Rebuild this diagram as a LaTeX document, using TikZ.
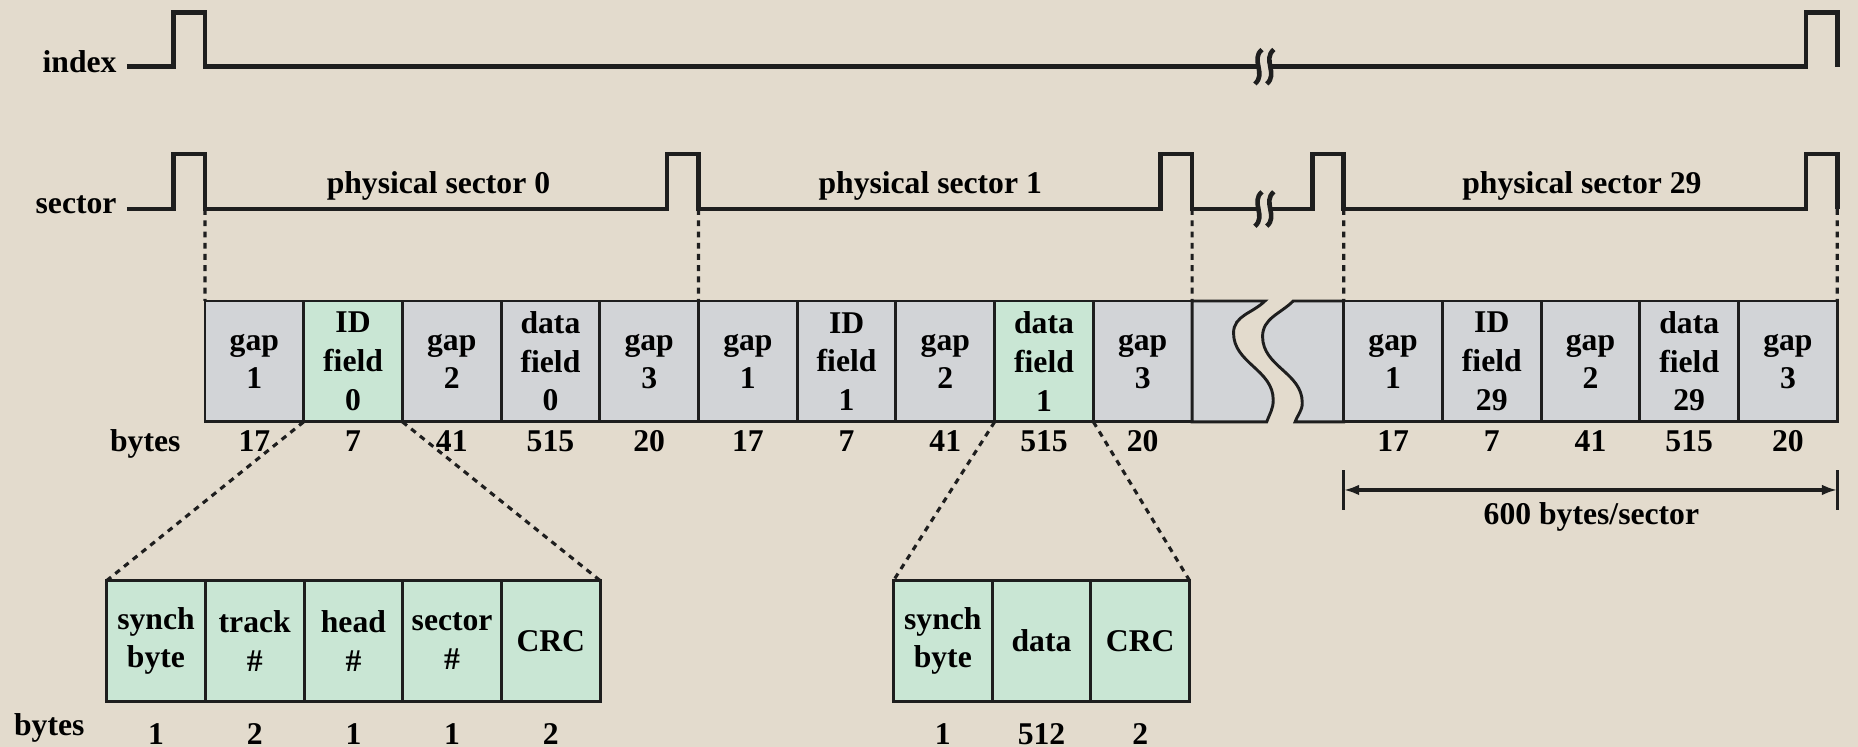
\documentclass[tikz,border=0pt]{standalone}
\usepackage{fontspec}
\setmainfont{Liberation Serif}
\usetikzlibrary{arrows.meta,positioning}
\definecolor{Paper}{HTML}{E3DBCD}
\definecolor{Ink}{HTML}{1E1E1E}
\definecolor{CellGray}{HTML}{D2D4D7}
\definecolor{CellGreen}{HTML}{C9E6D4}

\begin{document}
\begin{tikzpicture}[
  font=\fontsize{7.6}{9.3}\selectfont\bfseries,
  cell/.style={draw=Ink,line width=0.7pt,fill=CellGray,minimum width=0.833cm,minimum height=1.02cm,inner sep=0pt,outer sep=0pt,align=center},
  field/.style={cell,fill=CellGreen},
  piece/.style={draw=Ink,line width=0.7pt,fill=CellGray},
  bytenum/.style={anchor=base,inner sep=0pt},
  lbl/.style={anchor=base east,inner sep=0pt},
  wave/.style={draw=Ink,line width=1.1pt},
  guide/.style={draw=Ink,line width=0.75pt,dash pattern=on 1.4pt off 1.3pt},
  dimline/.style={draw=Ink,line width=0.8pt},
  arrow/.style={dimline,{Latex[length=1.3mm,width=0.9mm]}-{Latex[length=1.3mm,width=0.9mm]}}
]
\fill[Paper] (0,0) rectangle (15.68,-6.30);
\useasboundingbox (0,0) rectangle (15.68,-6.30);

\node[lbl] (index) at (0.99,-0.615) {index};
\node[lbl] (sector) at (0.99,-1.80) {sector};
\node[anchor=base,inner sep=0pt] (ps0) at (3.70,-1.63) {physical sector 0};
\node[anchor=base,inner sep=0pt] (ps1) at (7.85,-1.63) {physical sector 1};
\node[anchor=base,inner sep=0pt] (ps29) at (13.35,-1.63) {physical sector 29};

\draw[wave] (1.07,-0.563) -| (1.465,-0.104) -| (1.73,-0.563) -- (10.62,-0.563);
\draw[wave] (10.72,-0.563) -| (15.24,-0.104) -| (15.505,-0.563);
\draw[wave] (1.07,-1.764) -| (1.465,-1.30) -| (1.73,-1.764) -| (5.63,-1.30) -| (5.895,-1.764)
  -| (9.795,-1.30) -| (10.06,-1.764) -- (10.62,-1.764);
\draw[wave] (10.72,-1.764) -| (11.075,-1.30) -| (11.34,-1.764) -| (15.24,-1.30) -| (15.505,-1.764);
\foreach \y in {-0.563,-1.764}
  \foreach \x in {10.62,10.72}
    \draw[wave] (\x+0.03,\y+0.145) .. controls (\x-0.07,\y+0.06) and (\x+0.07,\y-0.06) .. (\x-0.03,\y-0.145);

\coordinate (f0) at (1.73,-1.764);
\coordinate (f1) at (5.895,-1.764);
\coordinate (f2) at (10.06,-1.764);
\coordinate (f3) at (11.34,-1.764);
\coordinate (f4) at (15.505,-1.764);

\node[cell] (a1) at (2.1465,-3.05) {gap\\1};
\node[field,right=0pt of a1] (a2) {ID\\field\\0};
\node[cell,right=0pt of a2] (a3) {gap\\2};
\node[cell,right=0pt of a3] (a4) {data\\field\\0};
\node[cell,right=0pt of a4] (a5) {gap\\3};
\node[cell,right=0pt of a5] (b1) {gap\\1};
\node[cell,right=0pt of b1] (b2) {ID\\field\\1};
\node[cell,right=0pt of b2] (b3) {gap\\2};
\node[field,right=0pt of b3] (b4) {data\\field\\1};
\node[cell,right=0pt of b4] (b5) {gap\\3};
\draw[piece] (b5.north east) -- (10.675,-2.54) to[out=225,in=90] (10.41,-2.81)
  to[out=-90,in=90] (10.745,-3.376) to[out=-90,in=70] (10.69,-3.56) -- (b5.south east) -- cycle;
\draw[piece] (11.34,-2.54) -- (10.914,-2.54) to[out=225,in=90] (10.655,-2.84)
  to[out=-90,in=90] (10.99,-3.40) to[out=-90,in=70] (10.93,-3.56) -- (11.34,-3.56) -- cycle;
\node[cell] (z1) at (11.7565,-3.05) {gap\\1};
\node[cell,right=0pt of z1] (z2) {ID\\field\\29};
\node[cell,right=0pt of z2] (z3) {gap\\2};
\node[cell,right=0pt of z3] (z4) {data\\field\\29};
\node[cell,right=0pt of z4] (z5) {gap\\3};

\node[lbl] (bytesA) at (1.53,-3.81) {bytes};
\foreach \c/\n in {a1/17,a2/7,a3/41,a4/515,a5/20,b1/17,b2/7,b3/41,b4/515,b5/20,z1/17,z2/7,z3/41,z4/515,z5/20}
  \node[bytenum] (n\c) at ([yshift=-0.25cm]\c.south) {\n};

\foreach \f/\c in {f0/a1.north west,f1/b1.north west,f2/b5.north east,f3/z1.north west,f4/z5.north east}
  \draw[guide] (\f) -- (\c);

\coordinate (dl1) at ([yshift=-0.41cm]z1.south west);
\coordinate (dl2) at ([yshift=-0.74cm]z1.south west);
\coordinate (dr1) at ([yshift=-0.41cm]z5.south east);
\coordinate (dr2) at ([yshift=-0.74cm]z5.south east);
\coordinate (da) at ([yshift=-0.575cm]z1.south west);
\coordinate (db) at ([yshift=-0.575cm]z5.south east);
\draw[dimline] (dl1) -- (dl2);
\draw[dimline] (dr1) -- (dr2);
\draw[arrow] (da) -- (db);
\node[anchor=base,inner sep=0pt] (persector) at (13.43,-4.43) {600 bytes/sector};

\node[field] (p1) at (1.3165,-5.41) {synch\\byte};
\node[field,right=0pt of p1] (p2) {track\\\#};
\node[field,right=0pt of p2] (p3) {head\\\#};
\node[field,right=0pt of p3] (p4) {sector\\\#};
\node[field,right=0pt of p4] (p5) {CRC};
\node[field] (q1) at (7.9565,-5.41) {synch\\byte};
\node[field,right=0pt of q1] (q2) {data};
\node[field,right=0pt of q2] (q3) {CRC};

\node[lbl] (bytesB) at (0.72,-6.21) {bytes};
\foreach \c/\n in {p1/1,p2/2,p3/1,p4/1,p5/2,q1/1,q2/512,q3/2}
  \node[bytenum] (n\c) at ([yshift=-0.36cm]\c.south) {\n};

\foreach \s/\t in {a2.south west/p1.north west,a2.south east/p5.north east,b4.south west/q1.north west,b4.south east/q3.north east}
  \draw[guide] (\s) -- (\t);
\end{tikzpicture}
\end{document}
